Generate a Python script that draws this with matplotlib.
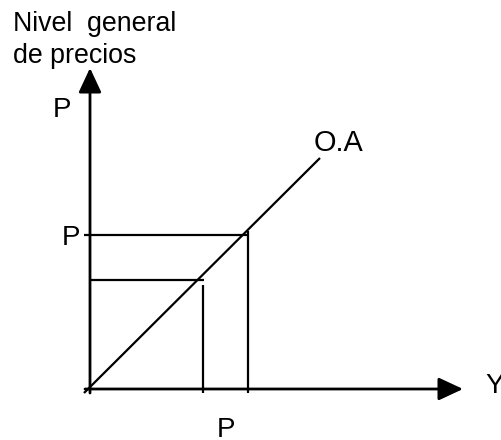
import matplotlib.pyplot as plt

plt.rcParams['font.family'] = ['Liberation Sans', 'DejaVu Sans']

# Unidades: pixeles medidos desde el origen del diagrama
y_bajo, y_alto = 113, 158          # produccion (Y)
p_bajo, p_alto = 109, 154          # nivel de precios (P)
oa_x = [-6, 230]                   # oferta agregada
oa_y = [-4, 231]
eje_x_fin = 373
eje_y_fin = 321

fig = plt.figure(figsize=(5.01, 4.40), dpi=100)
ax = fig.add_axes([0, 0, 1, 1])
ax.set_xlim(-90, 411)
ax.set_ylim(-51, 389)
ax.axis('off')

negro = dict(color='black', lw=1.6, solid_capstyle='butt')

# ejes con flecha
ax.annotate('', xy=(eje_x_fin, 0), xytext=(-5, 0),
            arrowprops=dict(arrowstyle='-|>,head_length=15,head_width=7',
                            mutation_scale=1, color='black', lw=2,
                            shrinkA=0, shrinkB=0))
ax.annotate('', xy=(0, eje_y_fin), xytext=(0, -4),
            arrowprops=dict(arrowstyle='-|>,head_length=15,head_width=7',
                            mutation_scale=1, color='black', lw=2,
                            shrinkA=0, shrinkB=0))

# curva O.A
ax.plot(oa_x, oa_y, **negro)

# lineas de referencia
ax.plot([-6, y_alto], [p_alto, p_alto], **negro)
ax.plot([y_alto, y_alto], [-4, p_alto + 4], **negro)
ax.plot([0, y_bajo + 1], [p_bajo, p_bajo], **negro)
ax.plot([y_bajo, y_bajo], [-4, p_bajo - 5], **negro)

fs = 20
ax.text(-77, 358, 'Nivel  general', fontsize=19.3, va='baseline')
ax.text(-77, 326, 'de precios', fontsize=19.3, va='baseline')
ax.text(-37, 272, 'P', fontsize=fs, va='baseline')
ax.text(-28, 144, 'P', fontsize=fs, va='baseline')
ax.text(224, 238, 'O.A', fontsize=20.8, va='baseline')
ax.text(127, -48, 'P', fontsize=fs, va='baseline')
ax.text(395, -4, 'Y', fontsize=fs, va='baseline')

fig.savefig('out.png', dpi=100)
